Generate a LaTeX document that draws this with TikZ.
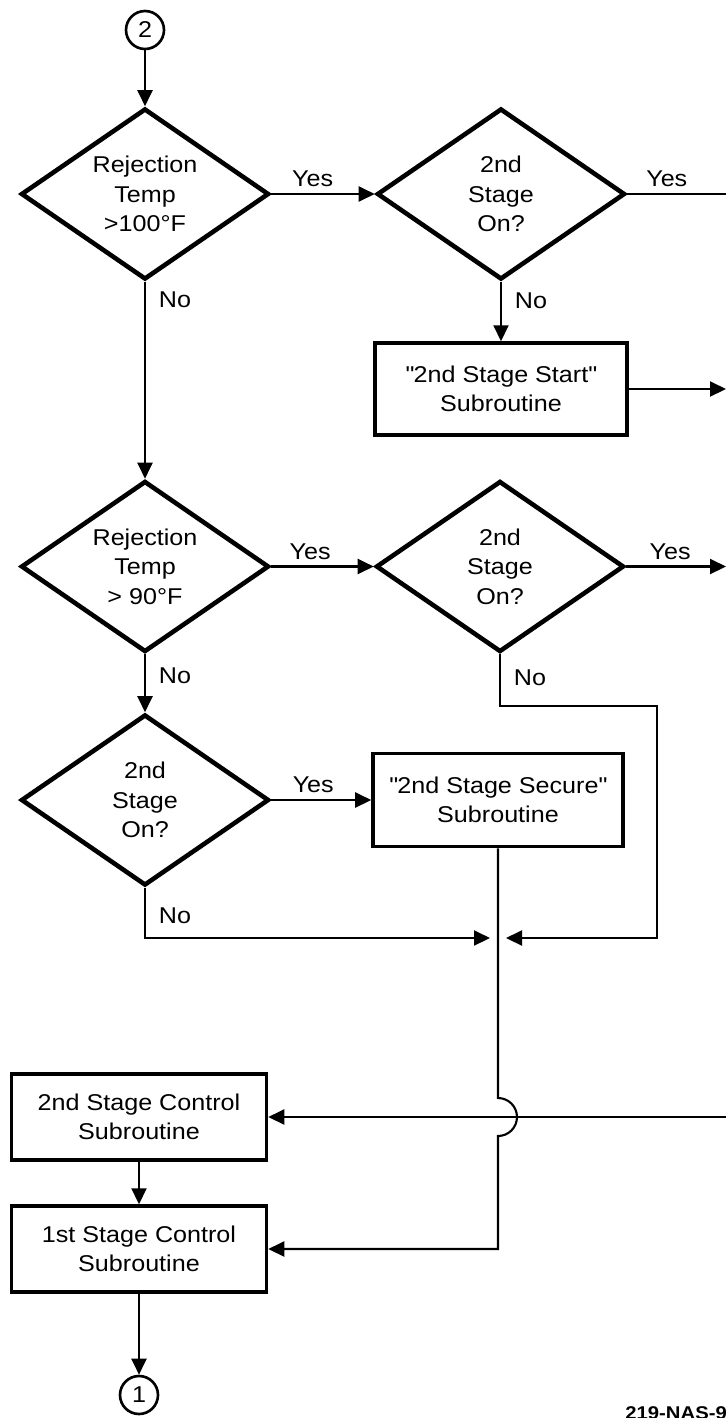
\documentclass[tikz,border=0pt]{standalone}
\usepackage{fontspec}
\setmainfont{Liberation Sans}[FakeStretch=1.1]
\usetikzlibrary{shapes,arrows.meta,positioning}
\newcommand\flowfont{\fontsize{13}{16.8}\selectfont}

\begin{document}
\begin{tikzpicture}[decision/.style={diamond,draw=black,line width=2.6pt,aspect=1.44,minimum width=4.96cm,minimum height=3.42cm,inner sep=0pt,align=center,font=\flowfont},
  process/.style={rectangle,draw=black,line width=2pt,minimum width=5.04cm,minimum height=1.84cm,align=center,font=\flowfont},
  connector/.style={circle,draw=black,line width=1.5pt,minimum size=0.76cm,inner sep=0pt,font=\flowfont},
  flow/.style={line width=1.2pt,-{Triangle[length=0.32cm,width=0.3cm]}},
  link/.style={line width=1.2pt},
  answer/.style={font=\flowfont}]

\clip (0,0) rectangle (14.52,-28.36);

\node[connector] (c2) at (2.9,-0.6) {2};
\node[decision] (d1) at (2.9,-3.88) {Rejection\\Temp\\>100°F};
\node[decision] (d2) at (10.02,-3.88) {2nd\\Stage\\On?};
\node[process] (start) at (10.02,-7.78) {\textquotedbl 2nd Stage Start\textquotedbl\\Subroutine};

\node[decision] (d3) at (2.9,-11.33) {Rejection\\Temp\\> 90°F};
\node[decision] (d4) at (10.0,-11.33) {2nd\\Stage\\On?};
\node[decision] (d5) at (2.9,-16.0) {2nd\\Stage\\On?};
\node[process,minimum width=5.0cm,minimum height=1.86cm] (secure) at (9.96,-16.0) {\textquotedbl 2nd Stage Secure\textquotedbl\\Subroutine};

\node[process,minimum width=5.1cm,minimum height=1.72cm] (ctrl2) at (2.78,-22.34) {2nd Stage Control\\Subroutine};
\node[process,minimum width=5.1cm,minimum height=1.72cm] (ctrl1) at (2.78,-24.98) {1st Stage Control\\Subroutine};
\node[connector] (c1) at (2.78,-27.9) {1};

% free ends at the right border
\coordinate (e1) at (14.52,-3.88);
\coordinate (e2) at (14.52,-7.78);
\coordinate (e3) at (14.52,-11.33);
\coordinate (e4) at (14.52,-22.34);
\coordinate (bend) at (13.14,-14.12);
\coordinate (tl) at (9.8,-18.76);
\coordinate (tr) at (10.12,-18.76);
\coordinate (hop) at (9.96,-22.34);

\draw[flow] (c2) -- (d1);
\draw[flow] (d1) -- node[answer,above,pos=0.4] {Yes} (d2);
\draw[link] (d2) -- node[answer,above,pos=0.4] {Yes} (e1);
\draw[flow] (d1) -- node[answer,right=4pt,pos=0.09] {No} (d3);
\draw[flow] (d2) -- node[answer,right=4pt,pos=0.32] {No} (start);
\draw[flow] (start) -- (e2);

\draw[flow] (d3) -- node[answer,above,pos=0.38] {Yes} (d4);
\draw[flow] (d4) -- node[answer,above,pos=0.44] {Yes} (e3);
\draw[flow] (d3) -- node[answer,right=4pt,pos=0.37] {No} (d5);
\draw[flow] (d4) -- node[answer,right=4pt,pos=0.46] {No} (d4.south |- bend) -- (bend) |- (tr);
\draw[flow] (d5) -- node[answer,above,pos=0.42] {Yes} (secure);
\draw[flow] (d5) -- node[answer,right=4pt,pos=0.55] {No} (d5.south |- tl) -- (tl);

%\draw[red] (hop) circle (0.38);
\draw[flow] (secure) -- ([yshift=0.38cm]hop) arc[start angle=90,end angle=-90,radius=0.38cm] |- (ctrl1);
\draw[flow] (e4) -- (ctrl2);
\draw[flow] (ctrl2) -- (ctrl1);
\draw[flow] (ctrl1) -- (c1);

\node[anchor=base west,inner sep=0pt,font=\fontsize{10.5}{12}\selectfont\bfseries] (tag) at (12.5,-28.38) {219-NAS-9};

\end{tikzpicture}
\end{document}
